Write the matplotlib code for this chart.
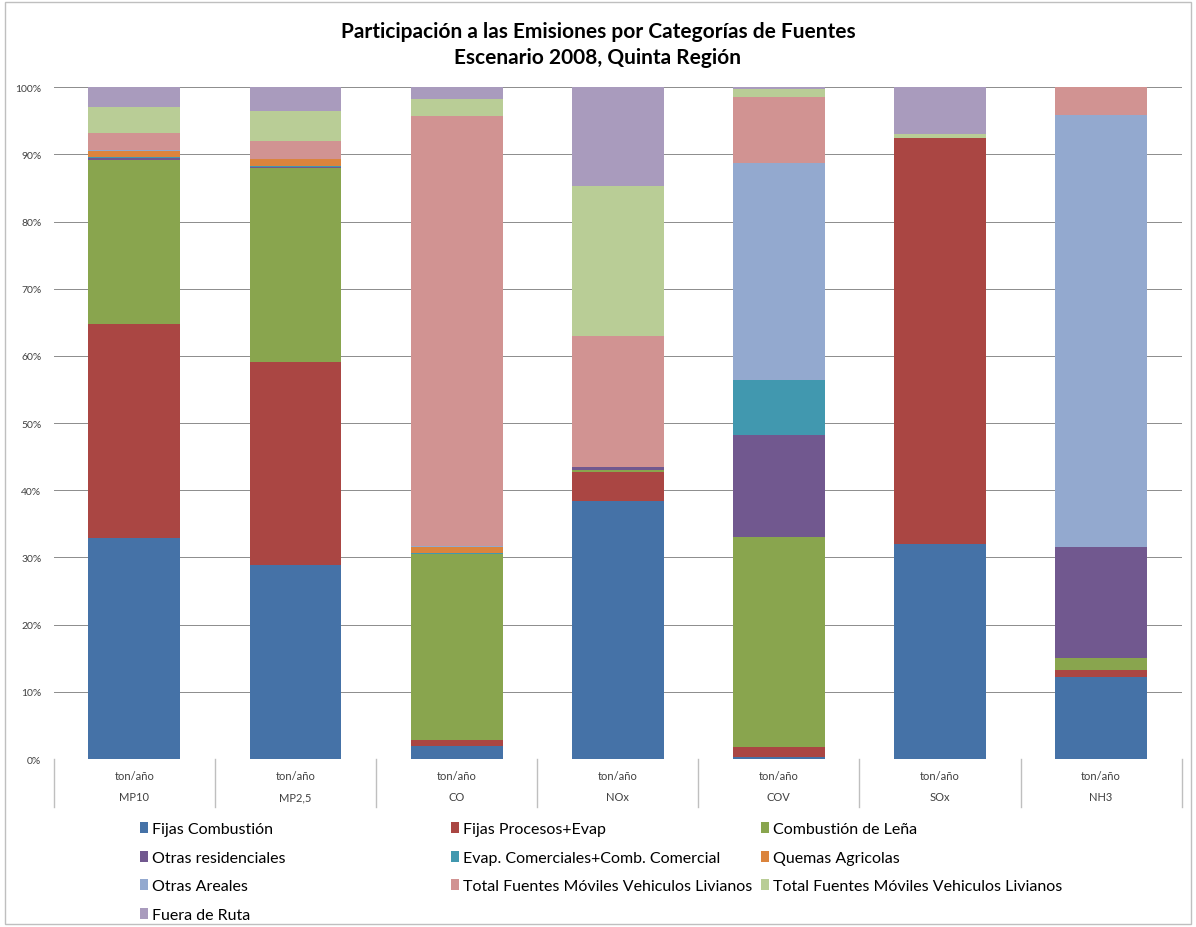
import numpy as np
import matplotlib
matplotlib.use('Agg')
import matplotlib.pyplot as plt
from matplotlib.patches import Patch, Rectangle

plt.rcParams['font.family'] = ['Lato', 'DejaVu Sans']

categorias = ['MP10', 'MP2,5', 'CO', 'NOx', 'COV', 'SOx', 'NH3']
unidad = 'ton/año'

# participación (%)
fijas_comb = [33.0, 28.9, 1.9, 38.4, 0.3, 32.0, 12.25]
fijas_proc = [32.0, 30.2, 0.9, 4.3, 1.5, 60.45, 1.0]
lena = [24.4, 29.0, 27.7, 0.3, 31.2, 0.0, 1.8]
otras_res = [0.3, 0.15, 0.0, 0.45, 15.2, 0.0, 16.5]
evap_com = [0.1, 0.15, 0.2, 0.0, 8.3, 0.0, 0.0]
quemas = [0.9, 1.0, 0.85, 0.0, 0.0, 0.0, 0.0]
otras_areales = [0.2, 0.0, 0.1, 0.0, 32.3, 0.0, 64.1]
moviles_a = [2.6, 2.7, 64.05, 19.5, 9.8, 0.0, 4.2]
moviles_b = [3.9, 4.5, 2.5, 22.3, 1.2, 0.55, 0.0]
fuera_ruta = [2.9, 3.5, 1.8, 14.7, 0.25, 7.0, 0.0]

series = [
    ('Fijas Combustión', fijas_comb, '#4572A7'),
    ('Fijas Procesos+Evap', fijas_proc, '#AA4643'),
    ('Combustión de Leña', lena, '#89A54E'),
    ('Otras residenciales', otras_res, '#71588F'),
    ('Evap. Comerciales+Comb. Comercial', evap_com, '#4198AF'),
    ('Quemas Agricolas', quemas, '#DB843D'),
    ('Otras Areales', otras_areales, '#93A9CF'),
    ('Total Fuentes Móviles Vehiculos Livianos', moviles_a, '#D19392'),
    ('Total Fuentes Móviles Vehiculos Livianos', moviles_b, '#B9CD96'),
    ('Fuera de Ruta', fuera_ruta, '#A99BBD'),
]

datos = np.array([s[1] for s in series], dtype=float)
datos = datos / datos.sum(axis=0) * 100

fig = plt.figure(figsize=(11.96, 9.28), dpi=100)
ax = fig.add_axes([0.045, 0.181, 0.943, 0.724])

x = np.arange(len(categorias))
base = np.zeros(len(categorias))
for (nombre, _, color), fila in zip(series, datos):
    ax.bar(x, fila, bottom=base, width=0.57, color=color, zorder=3)
    base += fila

ax.set_xlim(-0.5, len(categorias) - 0.5)
ax.set_ylim(0, 100)
ax.set_yticks(np.arange(0, 101, 10))
ax.set_yticklabels([f'{v}%' for v in range(0, 101, 10)], fontsize=7.5, color='#404040')
ax.yaxis.grid(True, color='#8C8C8C', lw=0.7, zorder=0)
ax.tick_params(axis='y', length=0, pad=9)
ax.tick_params(axis='x', length=0, pad=8)
ax.set_xticks(x)
ax.set_xticklabels([f'{unidad}\n{c}' for c in categorias], fontsize=8, color='#404040',
                   linespacing=2.1)
for s in ax.spines.values():
    s.set_visible(False)

# separadores del eje de categorías
for b in np.arange(-0.5, len(categorias), 1.0):
    ax.plot([b, b], [0, -7.2], color='#BFBFBF', lw=1, clip_on=False, zorder=1)

fig.text(0.5, 0.965, 'Participación a las Emisiones por Categorías de Fuentes',
         ha='center', va='center', fontsize=15, fontweight='bold')
fig.text(0.5, 0.937, 'Escenario 2008, Quinta Región',
         ha='center', va='center', fontsize=15, fontweight='bold')

# leyenda en tres columnas
cols = [[0, 3, 6, 9], [1, 4, 7], [2, 5, 8]]
xs = [0.117, 0.377, 0.636]
for col, xc in zip(cols, xs):
    handles = [Patch(facecolor=series[i][2]) for i in col]
    labels = [series[i][0] for i in col]
    fig.legend(handles, labels, loc='upper left', bbox_to_anchor=(xc, 0.113),
               frameon=False, fontsize=11.5, handlelength=0.5, handleheight=0.7,
               handletextpad=0.25, labelspacing=0.9, borderaxespad=0, borderpad=0)

fig.patches.append(Rectangle((0.004, 0.003), 0.992, 0.994, transform=fig.transFigure,
                             fill=False, edgecolor='#BFBFBF', lw=1))

fig.savefig('out.png', dpi=100)
